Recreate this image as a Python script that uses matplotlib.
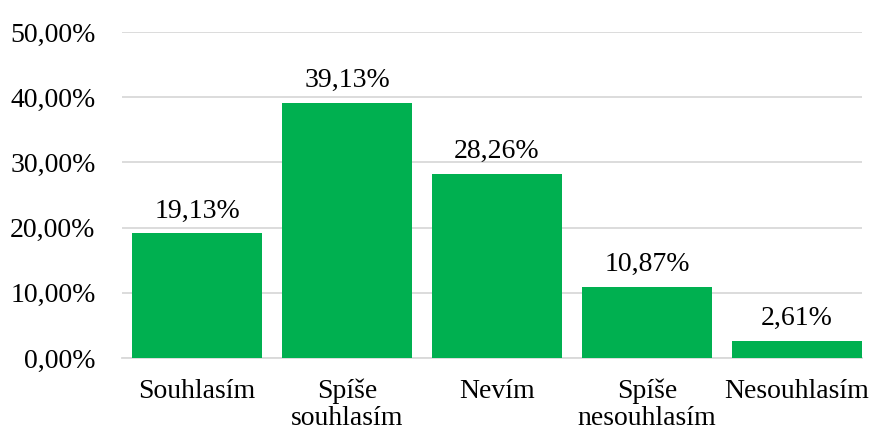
import matplotlib
matplotlib.use("Agg")
import matplotlib.pyplot as plt

categories = ["Souhlasím", "Spíše\nsouhlasím", "Nevím", "Spíše\nnesouhlasím", "Nesouhlasím"]
values = [19.13, 39.13, 28.26, 10.87, 2.61]
yticks = [0, 10, 20, 30, 40, 50]

plt.rcParams["font.family"] = ["Liberation Serif", "DejaVu Serif"]

W, H = 871, 433
fig = plt.figure(figsize=(W / 100, H / 100), dpi=100)
ax = fig.add_axes([122 / W, 1 - 358 / H, (862 - 122) / W, (358 - 32) / H])

x = range(len(categories))
bars = ax.bar(x, values, width=0.867, color="#00B050", zorder=3)

for xi, v in zip(x, values):
    ax.text(xi, v + 1.5, f"{v:.2f}%".replace(".", ","), ha="center", va="bottom",
            fontsize=20, color="black")

ax.set_xlim(-0.5, 4.5 - 10 / 150)
ax.set_ylim(0, 50)
ax.set_yticks(yticks)
ax.set_yticklabels([f"{t:.2f}%".replace(".", ",") for t in yticks], fontsize=20, color="black")
ax.set_xticks(list(x))
ax.set_xticklabels(categories, fontsize=20, color="black", linespacing=1.1)

ax.grid(axis="y", color="#D9D9D9", linewidth=1.3, zorder=0)
for s in ["top", "right", "left"]:
    ax.spines[s].set_visible(False)
ax.spines["bottom"].set_color("#D9D9D9")
ax.spines["bottom"].set_linewidth(1.3)
ax.tick_params(axis="y", length=0, pad=19)
ax.tick_params(axis="x", length=0, pad=15)

fig.savefig("out.png", dpi=100)
